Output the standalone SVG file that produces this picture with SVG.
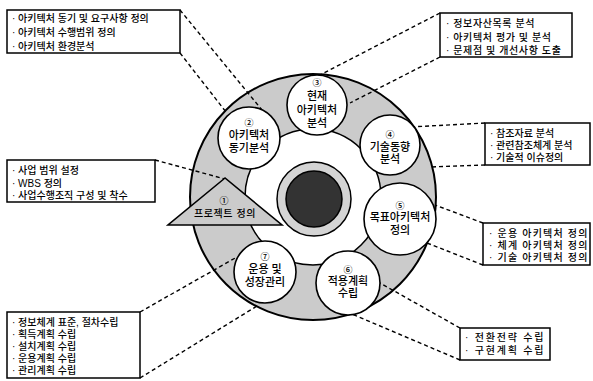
<svg xmlns="http://www.w3.org/2000/svg" width="593" height="381" viewBox="0 0 593 381">
<style>
text{font-family:"Liberation Sans","Noto Sans CJK KR",sans-serif;fill:#000;font-weight:500}
.bt{font-size:10px}
.nt{font-size:11px;text-anchor:middle}
.num{font-size:9px;text-anchor:middle}
.box{fill:#fff;stroke:#000;stroke-width:1.5}
.node{fill:#fff;stroke:#000;stroke-width:1.6}
.conn line{stroke:#000;stroke-width:1.4;stroke-dasharray:4 3}
</style>
<rect width="593" height="381" fill="#fff"/>
<g id="ring">
<circle cx="313" cy="197" r="123" fill="#cbcbcb" stroke="#000" stroke-width="2"/>
<circle cx="313" cy="197" r="68" fill="#fff" stroke="#000" stroke-width="1.5"/>
</g>
<g id="core">
<circle cx="314" cy="199" r="37" fill="#d4d4d4" stroke="#000" stroke-width="1.5"/>
<circle cx="314" cy="199" r="28" fill="#333" stroke="#000" stroke-width="1.5"/>
</g>
<g class="conn" id="connectors">
<line x1="180" y1="10" x2="262" y2="110"/>
<line x1="180" y1="53" x2="226" y2="112"/>
<line x1="440" y1="13" x2="318" y2="76"/>
<line x1="440" y1="57" x2="350" y2="103"/>
<line x1="155" y1="160" x2="225" y2="179"/>
<line x1="485" y1="123" x2="410" y2="127"/>
<line x1="485" y1="165" x2="430" y2="167"/>
<line x1="483" y1="223" x2="435" y2="205"/>
<line x1="483" y1="265" x2="427" y2="243"/>
<line x1="140" y1="312" x2="237" y2="257"/>
<line x1="140" y1="378" x2="257" y2="306"/>
<line x1="460" y1="328" x2="380" y2="283"/>
<line x1="460" y1="360" x2="352" y2="314"/>
</g>
<g id="n3">
<circle class="node" cx="317" cy="105" r="30"/>
<text class="num" x="317" y="86">③</text>
<text class="nt" x="317" y="100">현재</text>
<text class="nt" x="317" y="114">아키텍처</text>
<text class="nt" x="317" y="127">분석</text>
</g>
<g id="n2">
<circle class="node" cx="249" cy="138" r="31"/>
<text class="num" x="249" y="126">②</text>
<text class="nt" x="249" y="139">아키텍처</text>
<text class="nt" x="249" y="152">동기분석</text>
</g>
<g id="n4">
<circle class="node" cx="390" cy="145" r="30"/>
<text class="num" x="390" y="138">④</text>
<text class="nt" x="390" y="151">기술동향</text>
<text class="nt" x="390" y="163">분석</text>
</g>
<g id="n5">
<circle class="node" cx="400" cy="219" r="36"/>
<text class="num" x="400" y="209">⑤</text>
<text class="nt" x="400" y="221">목표아키텍처</text>
<text class="nt" x="400" y="234">정의</text>
</g>
<g id="n6">
<circle class="node" cx="348" cy="283" r="32"/>
<text class="num" x="348" y="273">⑥</text>
<text class="nt" x="348" y="285">적용계획</text>
<text class="nt" x="348" y="297">수립</text>
</g>
<g id="n7">
<circle class="node" cx="265" cy="272" r="31"/>
<text class="num" x="265" y="260">⑦</text>
<text class="nt" x="265" y="273">운용 및</text>
<text class="nt" x="265" y="286">성장관리</text>
</g>
<g id="n1">
<polygon points="225,178 168,225 282,225" fill="#cbcbcb" stroke="#000" stroke-width="1.6"/>
<text class="num" x="224" y="204" font-weight="bold">①</text>
<text x="225" y="217" font-size="10" font-weight="bold" text-anchor="middle" letter-spacing="0.6">프로젝트 정의</text>
</g>
<g id="b1">
<rect class="box" x="7" y="10" width="173" height="43"/>
<text class="bt" x="12" y="22">· 아키텍처 동기 및 요구사항 정의</text>
<text class="bt" x="12" y="36">· 아키텍처 수행범위 정의</text>
<text class="bt" x="12" y="50">· 아키텍처 환경분석</text>
</g>
<g id="b2">
<rect class="box" x="440" y="13" width="132" height="44"/>
<text class="bt" x="446" y="27" letter-spacing="0.6">· 정보자산목록 분석</text>
<text class="bt" x="446" y="41" letter-spacing="0.6">· 아키텍처 평가 및 분석</text>
<text class="bt" x="446" y="54" letter-spacing="0.6">· 문제점 및 개선사항 도출</text>
</g>
<g id="b3">
<rect class="box" x="7" y="160" width="148" height="42"/>
<text class="bt" x="12" y="174">· 사업 범위 설정</text>
<text class="bt" x="12" y="187">· WBS 정의</text>
<text class="bt" x="12" y="199">· 사업수행조직 구성 및 착수</text>
</g>
<g id="b4">
<rect class="box" x="485" y="123" width="105" height="42"/>
<text class="bt" x="490" y="137">· 참조자료 분석</text>
<text class="bt" x="490" y="149">· 관련참조체계 분석</text>
<text class="bt" x="490" y="161">· 기술적 이슈정의</text>
</g>
<g id="b5">
<rect class="box" x="483" y="223" width="107" height="42"/>
<text class="bt" x="489" y="237" letter-spacing="1.2">· 운용 아키텍처 정의</text>
<text class="bt" x="489" y="249" letter-spacing="1.2">· 체계 아키텍처 정의</text>
<text class="bt" x="489" y="261" letter-spacing="1.2">· 기술 아키텍처 정의</text>
</g>
<g id="b6">
<rect class="box" x="7" y="312" width="133" height="66"/>
<text class="bt" x="12" y="326">· 정보체계 표준, 절차수립</text>
<text class="bt" x="12" y="338">· 획득계획 수립</text>
<text class="bt" x="12" y="350">· 설치계획 수립</text>
<text class="bt" x="12" y="362">· 운용계획 수립</text>
<text class="bt" x="12" y="374">· 관리계획 수립</text>
</g>
<g id="b7">
<rect class="box" x="460" y="328" width="90" height="32"/>
<text class="bt" x="465" y="341" letter-spacing="1.8">· 전환전략 수립</text>
<text class="bt" x="465" y="354" letter-spacing="1.8">· 구현계획 수립</text>
</g>
</svg>
